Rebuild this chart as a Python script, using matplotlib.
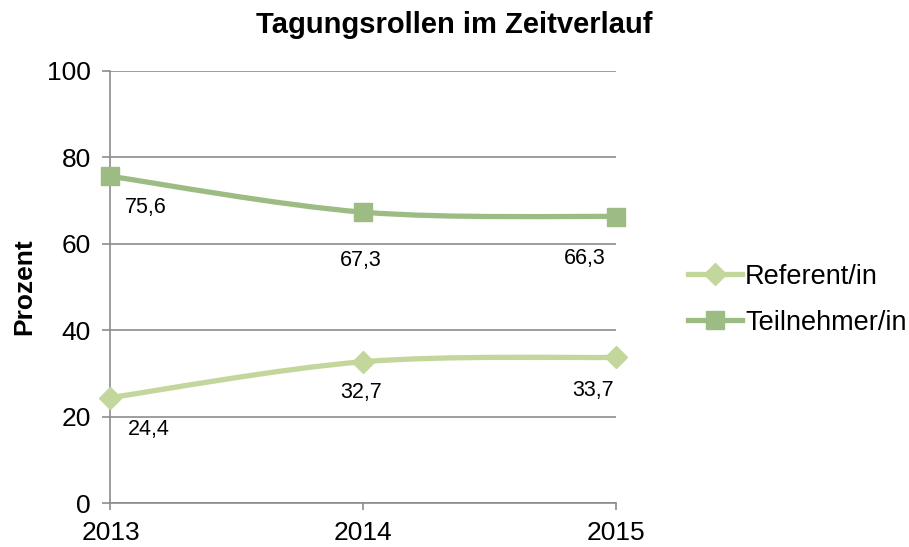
import matplotlib
matplotlib.use("Agg")
import matplotlib.pyplot as plt
from matplotlib.path import Path
from matplotlib.patches import PathPatch
from matplotlib.lines import Line2D

plt.rcParams['font.family'] = ['Liberation Sans', 'DejaVu Sans']

years = ["2013", "2014", "2015"]
referent = [24.4, 32.7, 33.7]
teilnehmer = [75.6, 67.3, 66.3]
series_names = ["Referent/in", "Teilnehmer/in"]
y_ticks = [0, 20, 40, 60, 80, 100]

col_ref = "#C3D69B"
col_teil = "#9DBC84"
grid_col = "#8C8C8C"

fig = plt.figure(figsize=(9.09, 5.47), dpi=100)
ax = fig.add_axes([0.1215, 0.0804, 0.5565, 0.790])

x = list(range(len(years)))


def smooth_path(xs, ys):
    verts = [(xs[0], ys[0])]
    codes = [Path.MOVETO]
    n = len(xs)
    for i in range(n - 1):
        p0 = (xs[max(i - 1, 0)], ys[max(i - 1, 0)])
        p1 = (xs[i], ys[i])
        p2 = (xs[i + 1], ys[i + 1])
        p3 = (xs[min(i + 2, n - 1)], ys[min(i + 2, n - 1)])
        c1 = (p1[0] + (p2[0] - p0[0]) / 6, p1[1] + (p2[1] - p0[1]) / 6)
        c2 = (p2[0] - (p3[0] - p1[0]) / 6, p2[1] - (p3[1] - p1[1]) / 6)
        verts += [c1, c2, p2]
        codes += [Path.CURVE4] * 3
    return Path(verts, codes)


for ys, col, mk, ms in [(referent, col_ref, "D", 11), (teilnehmer, col_teil, "s", 13.5)]:
    ax.add_patch(PathPatch(smooth_path(x, ys), facecolor="none", edgecolor=col,
                           lw=3.8, capstyle="round", zorder=3))
    ax.plot(x, ys, linestyle="none", marker=mk, markersize=ms, color=col,
            markeredgecolor=col, zorder=4, clip_on=False)

# data labels
ref_offsets = [(38, -32), (-2, -31), (-23, -33)]
teil_offsets = [(35, -31), (-3, -48), (-32, -42)]
for ys, offs in [(referent, ref_offsets), (teilnehmer, teil_offsets)]:
    for xi, yv, (dx, dy) in zip(x, ys, offs):
        ax.annotate(f"{yv:.1f}".replace(".", ","), (xi, yv), xytext=(dx, dy),
                    textcoords="offset pixels", ha="center", va="center",
                    fontsize=15.5, color="black")

ax.set_xlim(0, 2)
ax.set_ylim(0, 100)
ax.set_yticks(y_ticks)
ax.set_xticks(x)
ax.set_xticklabels(years)
ax.tick_params(axis="y", length=6, width=1.2, color=grid_col, labelsize=19, pad=8)
ax.tick_params(axis="x", length=5, width=1.2, color=grid_col, labelsize=19, pad=8)
ax.grid(axis="y", color=grid_col, lw=1.2)
ax.set_axisbelow(True)
for s in ["top", "right"]:
    ax.spines[s].set_visible(False)
for s in ["left", "bottom"]:
    ax.spines[s].set_color(grid_col)
    ax.spines[s].set_linewidth(1.2)

ax.set_ylabel("Prozent", fontsize=19, fontweight="bold", labelpad=8)
fig.text(0.5, 0.955, "Tagungsrollen im Zeitverlauf", ha="center", va="center",
         fontsize=21, fontweight="bold")

handles = [Line2D([], [], color=col_ref, lw=3.8, marker="D", markersize=11),
           Line2D([], [], color=col_teil, lw=3.8, marker="s", markersize=13.5)]
fig.legend(handles, series_names, loc="center left", bbox_to_anchor=(0.757, 0.452),
           frameon=False, fontsize=19.5, handlelength=2.0, handletextpad=0.1,
           labelspacing=0.75, borderaxespad=0, borderpad=0)

fig.savefig("out.png", dpi=100)
